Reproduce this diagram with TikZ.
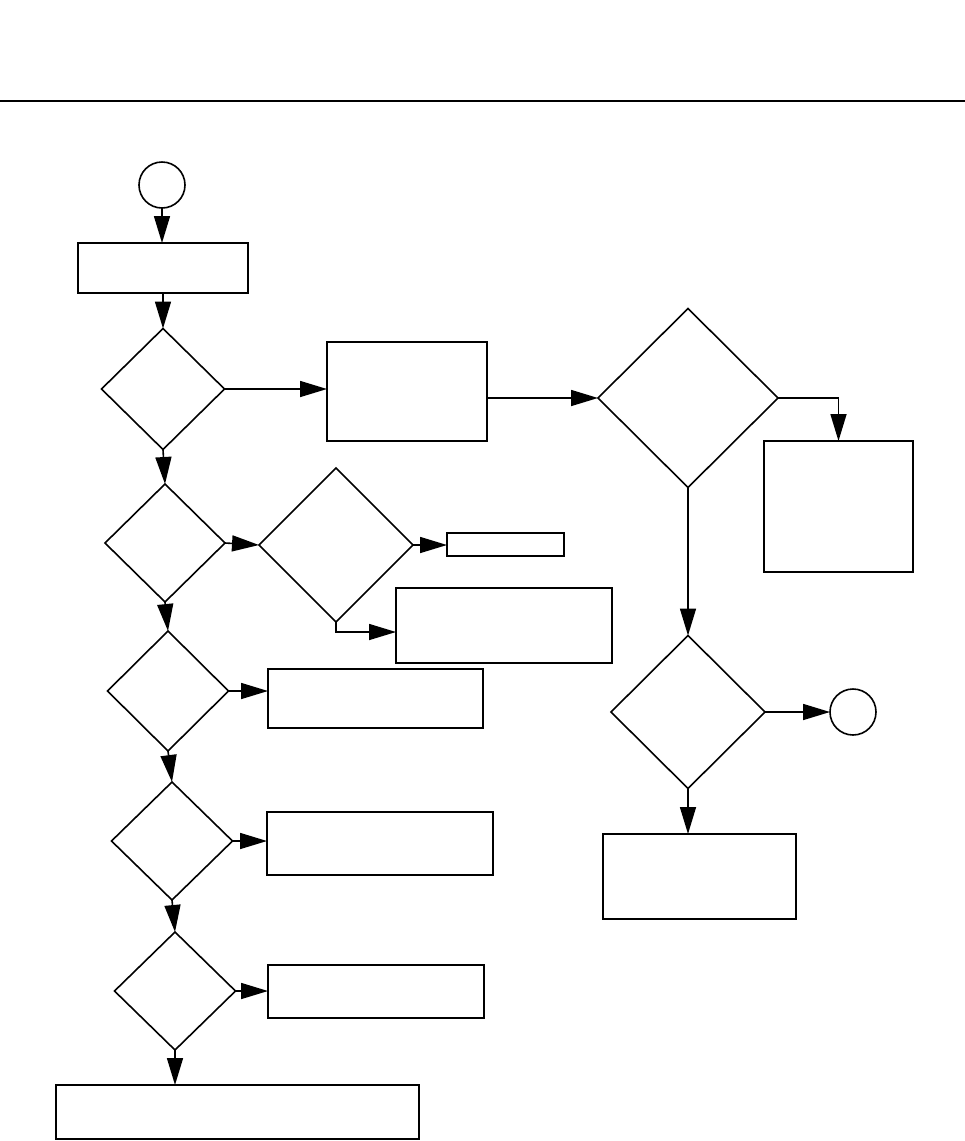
\documentclass[tikz,border=0pt]{standalone}
\usetikzlibrary{shapes.geometric,arrows.meta}
\begin{document}
\begin{tikzpicture}[x=1pt,y=-1pt,
  every node/.style={draw, line width=1.6pt, inner sep=0pt, outer sep=0pt},
  box/.style={rectangle},
  dia/.style={diamond},
  term/.style={circle, minimum size=46pt},
  conn/.style={line width=1.6pt, -{Triangle[length=27pt,width=16pt]}},
  plain/.style={line width=1.6pt}]
\useasboundingbox (0,0) rectangle (965,1141);
\draw[line width=2.5pt] (0,101) -- (965,101);
% start
\node[term] (S) at (162,185) {};
\node[box, minimum width=170pt, minimum height=50pt] (B1) at (163,268) {};
\node[dia, minimum width=123pt, minimum height=121pt] (D1) at (163,389) {};
\node[box, minimum width=160pt, minimum height=99pt] (B2) at (407,391.5) {};
\node[dia, minimum width=180pt, minimum height=179pt] (DB) at (688,398) {};
\node[box, minimum width=149pt, minimum height=131pt] (BR) at (838.5,506.5) {};
\node[dia, minimum width=154pt, minimum height=153pt] (DR) at (688,712) {};
\node[term] (E) at (853,712) {};
\node[box, minimum width=193pt, minimum height=85pt] (BRB) at (699.5,876.5) {};
% left column
\node[dia, minimum width=120pt, minimum height=118pt] (D2) at (165,543) {};
\node[dia, minimum width=154pt, minimum height=154pt] (D3) at (336,545) {};
\node[box, minimum width=117pt, minimum height=23pt] (BS) at (505.5,544.5) {};
\node[box, minimum width=216pt, minimum height=75pt] (BM) at (504,625.5) {};
\node[dia, minimum width=121pt, minimum height=120pt] (D4) at (168,691) {};
\node[box, minimum width=215pt, minimum height=59pt] (B4) at (375.5,698.5) {};
\node[dia, minimum width=121pt, minimum height=118pt] (D5) at (172,841) {};
\node[box, minimum width=226pt, minimum height=63pt] (B5) at (380,843.5) {};
\node[dia, minimum width=121pt, minimum height=118pt] (D6) at (175,991) {};
\node[box, minimum width=216pt, minimum height=53pt] (B6) at (376,991.5) {};
\node[box, minimum width=363pt, minimum height=54pt] (BB) at (237.5,1112) {};
% connectors
\draw[conn] (S.south) -- (S.south |- B1.north);
\draw[conn] (B1.south) -- (D1.north);
\draw[conn] (D1.east) -- (D1.east -| B2.west);
\draw[conn] (B2.east |- DB.west) -- (DB.west);
\draw[conn] (DB.east) -| (BR.north);
\draw[conn] (DB.south) -- (DR.north);
\draw[conn] (DR.east) -- (E.west);
\draw[conn] (DR.south) -- (DR.south |- BRB.north);
\draw[conn] (D1.south) -- (D2.north);
\draw[conn] (D2.east) -- (D3.west);
\draw[conn] (D3.east) -- (D3.east -| BS.west);
\draw[conn] (D3.south) -- ++(0,10) -- (BM.west |- 0,632);
\draw[conn] (D2.south) -- (D4.north);
\draw[conn] (D4.east) -- (D4.east -| B4.west);
\draw[conn] (D4.south) -- (D5.north);
\draw[conn] (D5.east) -- (D5.east -| B5.west);
\draw[conn] (D5.south) -- (D6.north);
\draw[conn] (D6.east) -- (D6.east -| B6.west);
\draw[conn] (D6.south) -- (D6.south |- BB.north);
\end{tikzpicture}
\end{document}
